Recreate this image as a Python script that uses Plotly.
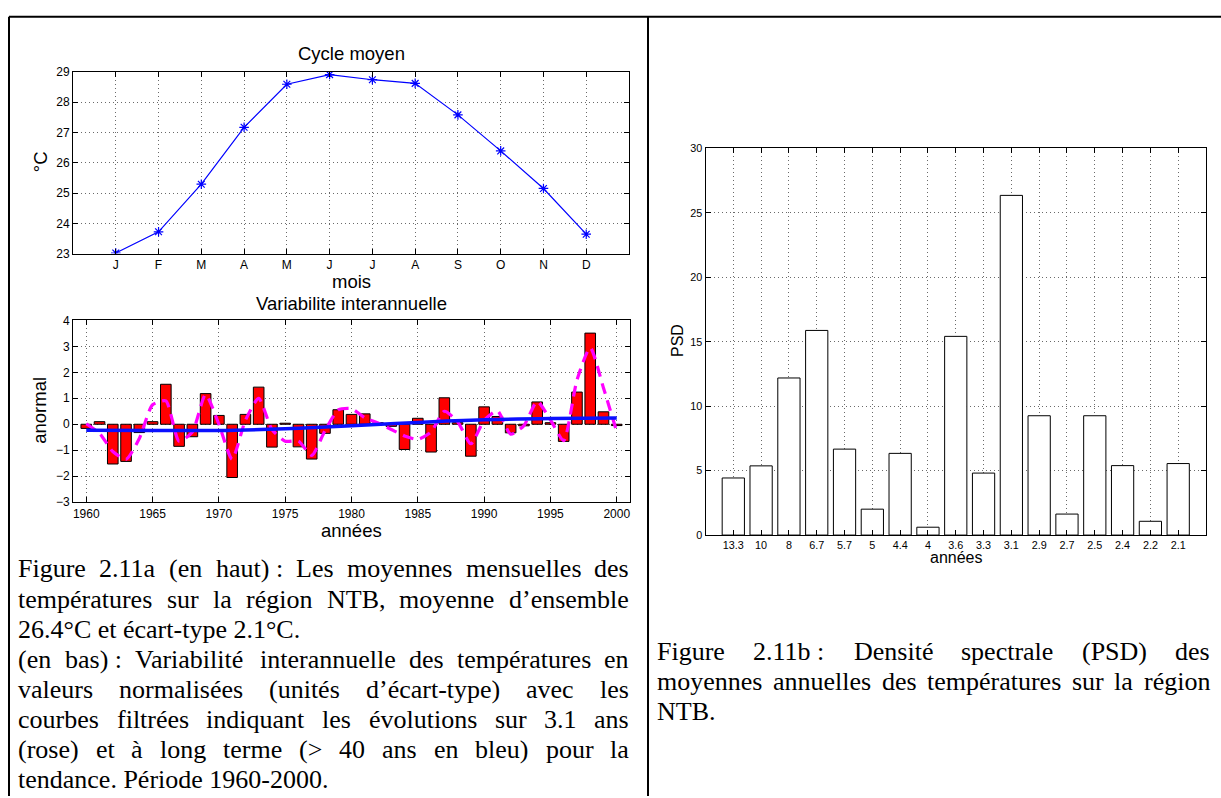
import plotly.graph_objects as go

W, H = 1221, 798

# ---------------- data ----------------
month_pos = [1, 2, 3, 4, 5, 6, 7, 8, 9, 10, 11, 12]
month_labels = ["J", "F", "M", "A", "M", "J", "J", "A", "S", "O", "N", "D"]
temp_cycle = [23.02, 23.72, 25.29, 27.17, 28.59, 28.91, 28.74, 28.62, 27.58, 26.39, 25.15, 23.64]

years = list(range(1960, 2001))
anomaly = [-0.16, 0.10, -1.53, -1.43, -0.32, 0.10, 1.54, -0.85, -0.48, 1.18,
           0.34, -2.05, 0.38, 1.43, -0.88, 0.04, -0.87, -1.34, -0.35, 0.56,
           0.38, 0.40, 0.06, -0.08, -0.97, 0.23, -1.07, 1.02, 0.06, -1.23,
           0.67, 0.30, -0.33, -0.06, 0.86, 0.06, -0.66, 1.24, 3.51, 0.48,
           -0.05]
filt_3yr = [0.02, -0.35, -1.05, -1.35, -0.55, 0.75, 0.90, -0.65, -0.30, 1.15,
            0.00, -1.35, 0.15, 1.00, -0.20, -0.65, -0.65, -1.20, -0.25, 0.55,
            0.60, 0.25, 0.05, -0.20, -0.45, -0.58, -0.30, 0.50, 0.10, -0.75,
            0.15, 0.52, -0.38, -0.05, 0.88, 0.17, -0.63, 1.70, 2.95, 1.40,
            -0.29]
trend_years = [1960, 1965, 1970, 1975, 1980, 1985, 1990, 1995, 2000]
trend_vals = [-0.23, -0.24, -0.24, -0.17, -0.06, 0.07, 0.17, 0.22, 0.24]

psd_pos = list(range(1, 18))
psd_labels = ["13.3", "10", "8", "6.7", "5.7", "5", "4.4", "4", "3.6", "3.3",
              "3.1", "2.9", "2.7", "2.5", "2.4", "2.2", "2.1"]
psd_vals = [4.43, 5.37, 12.19, 15.88, 6.67, 2.01, 6.34, 0.61, 15.42, 4.81,
            26.36, 9.26, 1.63, 9.26, 5.39, 1.07, 5.55]

caption_a = [
    ("Figure 2.11a (en haut)\u00a0: Les moyennes mensuelles des", True),
    ("températures sur la région NTB, moyenne d’ensemble", True),
    ("26.4°C et écart-type 2.1°C.", False),
    ("(en bas)\u00a0: Variabilité interannuelle des températures en", True),
    ("valeurs normalisées (unités d’écart-type) avec les", True),
    ("courbes filtrées indiquant les évolutions sur 3.1 ans", True),
    ("(rose) et à long terme (> 40 ans en bleu) pour la", True),
    ("tendance. Période 1960-2000.", False),
]
caption_b = [
    ("Figure 2.11b\u00a0: Densité spectrale (PSD) des", True),
    ("moyennes annuelles des températures sur la région", True),
    ("NTB.", False),
]

# ---------------- helpers ----------------
def px(x):
    return x / W

def py(y):
    return 1 - y / H

SANS = "Liberation Sans, Arial, Helvetica, sans-serif"
SERIF = "Liberation Serif, Times New Roman, serif"

TIMES = {' ': 250, '\u00a0': 250, '(': 333, ')': 333, ',': 250, '-': 333, '.': 250, ':': 278,
         '>': 564, '°': 400, '’': 333, "'": 180}
for d in "0123456789":
    TIMES[d] = 500
TIMES.update({'A': 722, 'B': 667, 'C': 667, 'D': 722, 'E': 611, 'F': 556, 'G': 722, 'H': 722,
              'I': 333, 'J': 389, 'K': 722, 'L': 611, 'M': 889, 'N': 722, 'O': 722, 'P': 556,
              'Q': 722, 'R': 667, 'S': 556, 'T': 611, 'U': 722, 'V': 722, 'W': 944, 'X': 722,
              'Y': 722, 'Z': 611,
              'a': 444, 'b': 500, 'c': 444, 'd': 500, 'e': 444, 'f': 333, 'g': 500, 'h': 500,
              'i': 278, 'j': 278, 'k': 500, 'l': 278, 'm': 778, 'n': 500, 'o': 500, 'p': 500,
              'q': 500, 'r': 333, 's': 389, 't': 278, 'u': 500, 'v': 500, 'w': 722, 'x': 500,
              'y': 500, 'z': 444, 'é': 444, 'è': 444, 'à': 444, 'É': 611})


def tw(s, fs):
    return sum(TIMES.get(c, 500) for c in s) / 1000.0 * fs


annotations = []


def add_text(text, x, y, size, family=SANS, xanchor="center", angle=0):
    annotations.append(dict(text=text, x=px(x), y=py(y), xref="paper", yref="paper",
                            xanchor=xanchor, yanchor="middle", showarrow=False,
                            textangle=angle, borderpad=0,
                            font=dict(family=family, size=size, color="black")))


def add_paragraph(lines, x0, x1, y0, dy, fs):
    for i, (line, just) in enumerate(lines):
        y = y0 + i * dy
        if not just:
            add_text(line, x0, y, fs, SERIF, "left")
            continue
        words = line.split(" ")
        widths = [tw(w, fs) for w in words]
        gap = (x1 - x0 - sum(widths)) / (len(words) - 1)
        x = x0
        for w, wd in zip(words, widths):
            add_text(w, x, y, fs, SERIF, "left")
            x += wd + gap


def axis(domain, rng, tickvals, ticktext, fs, anchor):
    return dict(domain=domain, range=rng, tickvals=tickvals, ticktext=ticktext,
                showline=True, linecolor="black", linewidth=1, mirror="ticks",
                ticks="inside", ticklen=5, tickcolor="black", tickwidth=1,
                showgrid=True, gridcolor="#6a6a6a", griddash="1px,3px", gridwidth=1,
                zeroline=False, anchor=anchor,
                tickfont=dict(family=SANS, size=fs, color="black"))


fig = go.Figure()

# top-left: mean cycle
fig.add_trace(go.Scatter(x=month_pos, y=temp_cycle, mode="lines+markers",
                         line=dict(color="#0000ff", width=1.2),
                         marker=dict(symbol="asterisk-open", size=8,
                                     line=dict(color="#0000ff", width=1.2)),
                         xaxis="x", yaxis="y"))

# bottom-left: interannual variability
fig.add_trace(go.Bar(x=years, y=anomaly, width=0.8,
                     marker=dict(color="#ff0000", line=dict(color="black", width=1)),
                     xaxis="x2", yaxis="y2"))
fig.add_trace(go.Scatter(x=years, y=filt_3yr, mode="lines",
                         line=dict(color="#ff00ff", width=3.2, dash="11px,7px", shape="spline",
                                   smoothing=0.6),
                         xaxis="x2", yaxis="y2"))
fig.add_trace(go.Scatter(x=trend_years, y=trend_vals, mode="lines",
                         line=dict(color="#0a10ff", width=3.5, shape="spline"),
                         xaxis="x2", yaxis="y2"))

# right: PSD
fig.add_trace(go.Bar(x=psd_pos, y=psd_vals, width=0.8,
                     marker=dict(color="white", line=dict(color="black", width=1)),
                     xaxis="x3", yaxis="y3"))

# axes domains (pixel geometry)
dx1 = [px(73), px(629)]
dy1 = [py(251), py(66)]
dx2 = [px(73), px(630)]
dy2 = [py(504), py(319)]
dx3 = [px(705.5), px(1206)]
dy3 = [py(537.5), py(144)]

layout = dict(
    width=W, height=H, margin=dict(l=0, r=0, t=0, b=0),
    paper_bgcolor="white", plot_bgcolor="white", showlegend=False,
    xaxis=axis(dx1, [0, 13], month_pos, month_labels, 12, "y"),
    yaxis=axis(dy1, [23, 29], [23, 24, 25, 26, 27, 28, 29], None, 12, "x"),
    xaxis2=axis(dx2, [1959, 2001], [1960, 1965, 1970, 1975, 1980, 1985, 1990, 1995, 2000],
                None, 12, "y2"),
    yaxis2=axis(dy2, [-3, 4], [-3, -2, -1, 0, 1, 2, 3, 4], None, 12, "x2"),
    xaxis3=axis(dx3, [0, 18], psd_pos, psd_labels, 10.8, "y3"),
    yaxis3=axis(dy3, [0, 30], [0, 5, 10, 15, 20, 25, 30], None, 10.8, "x3"),
)
for k in ["yaxis", "yaxis2", "yaxis3"]:
    layout[k].pop("ticktext")

# chart titles and labels
add_text("Cycle moyen", 351, 47, 18.5)
add_text("mois", 351, 279, 18.5)
add_text("°C", 40, 158, 18.5, angle=-90)
add_text("Variabilite interannuelle", 351.5, 301.5, 18.5)
add_text("années", 351.5, 533, 18.5)
add_text("anormal", 40, 411, 18.5, angle=-90)
add_text("PSD", 677, 340, 16, angle=-90)
add_text("années", 956, 560, 16)

# captions
add_paragraph(caption_a, 17, 628, 572, 30.6, 26)
add_paragraph(caption_b, 656, 1209, 656, 30.6, 26)

layout["annotations"] = annotations

# table borders
shapes = []
for (x0, y0, x1, y1) in [(9, 10, 9, H + 5), (9, 10, W + 5, 10), (648, 10, 648, H + 5)]:
    shapes.append(dict(type="line", xref="paper", yref="paper",
                       x0=px(x0), y0=py(y0), x1=px(x1), y1=py(y1),
                       line=dict(color="black", width=2)))
layout["shapes"] = shapes

fig.update_layout(**layout)
fig.write_html("out.html")
